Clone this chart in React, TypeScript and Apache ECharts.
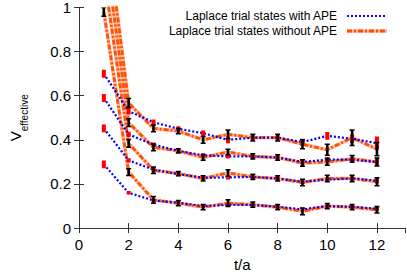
import React, { useEffect, useRef } from "react";
import * as echarts from "echarts";

// time slices t/a
const tValues = [1, 2, 3, 4, 5, 6, 7, 8, 9, 10, 11, 12];

// Laplace trial states with APE (blue)
const withApe1 = [0.70, 0.53, 0.48, 0.45, 0.43, 0.40, 0.41, 0.41, 0.39, 0.418, 0.405, 0.385];
const withApe2 = [0.59, 0.425, 0.378, 0.35, 0.33, 0.325, 0.325, 0.32, 0.30, 0.31, 0.31, 0.30];
const withApe3 = [0.452, 0.307, 0.265, 0.245, 0.228, 0.23, 0.232, 0.225, 0.21, 0.22, 0.225, 0.215];
const withApe4 = [0.289, 0.16, 0.125, 0.115, 0.10, 0.105, 0.105, 0.097, 0.085, 0.10, 0.096, 0.088];
const errWith1 = [0.018, 0.015, 0.012, 0.012, 0.012, 0.015, 0.012, 0.012, 0.015, 0.018, 0.02, 0.03];
const errWith2 = [0.018, 0.012, 0.01, 0.01, 0.01, 0.01, 0.01, 0.01, 0.012, 0.012, 0.012, 0.015];
const errWith3 = [0.018, 0.01, 0.01, 0.01, 0.01, 0.01, 0.01, 0.01, 0.01, 0.01, 0.01, 0.012];
const errWith4 = [0.018, 0.008, 0.008, 0.008, 0.008, 0.008, 0.008, 0.008, 0.008, 0.008, 0.008, 0.01];

// Laplace trial states without APE (orange)
const withoutApe1 = [1.45, 0.567, 0.452, 0.44, 0.40, 0.425, 0.41, 0.41, 0.38, 0.355, 0.41, 0.358];
const withoutApe2 = [1.30, 0.478, 0.366, 0.35, 0.32, 0.345, 0.325, 0.32, 0.295, 0.30, 0.314, 0.30];
const withoutApe3 = [1.15, 0.384, 0.262, 0.247, 0.225, 0.25, 0.232, 0.225, 0.207, 0.225, 0.225, 0.21];
const withoutApe4 = [0.98, 0.254, 0.128, 0.113, 0.095, 0.113, 0.106, 0.095, 0.076, 0.10, 0.095, 0.083];
const errWithout1 = [0.02, 0.02, 0.015, 0.012, 0.015, 0.02, 0.015, 0.015, 0.02, 0.025, 0.035, 0.03];
const errWithout2 = [0.02, 0.018, 0.015, 0.01, 0.012, 0.012, 0.012, 0.012, 0.015, 0.015, 0.015, 0.018];
const errWithout3 = [0.02, 0.018, 0.015, 0.01, 0.012, 0.015, 0.012, 0.012, 0.015, 0.015, 0.015, 0.018];
const errWithout4 = [0.02, 0.015, 0.015, 0.012, 0.012, 0.015, 0.012, 0.012, 0.015, 0.012, 0.012, 0.015];

const legendWith = "Laplace trial states with APE";
const legendWithout = "Laplace trial states without APE";

const BLUE = "#0000ff";
const ORANGE = "#ff5200";
const ORANGE_LIGHT = "#ffb8a0";
const FONT = "'Liberation Sans', Arial, sans-serif";

const withSets = [withApe1, withApe2, withApe3, withApe4];
const withErrs = [errWith1, errWith2, errWith3, errWith4];
const withoutSets = [withoutApe1, withoutApe2, withoutApe3, withoutApe4];
const withoutErrs = [errWithout1, errWithout2, errWithout3, errWithout4];

function pairs(vals: number[]) {
  return tValues.map((t, i) => [t, vals[i]]);
}
function triples(vals: number[], errs: number[]) {
  return tValues.map((t, i) => [t, vals[i], errs[i]]);
}

function errRender(color: string, capped: boolean) {
  return (params: any, api: any) => {
    const x = api.value(0);
    const y = api.value(1);
    const e = api.value(2);
    const p1 = api.coord([x, y + e]);
    const p2 = api.coord([x, y - e]);
    const children: any[] = [];
    if (capped) {
      children.push({
        type: "line",
        shape: { x1: p1[0], y1: p1[1], x2: p2[0], y2: p2[1] },
        style: { stroke: color, lineWidth: 2.6 },
      });
      children.push({
        type: "line",
        shape: { x1: p1[0] - 2.5, y1: p1[1], x2: p1[0] + 2.5, y2: p1[1] },
        style: { stroke: color, lineWidth: 1.5 },
      });
      children.push({
        type: "line",
        shape: { x1: p2[0] - 2.5, y1: p2[1], x2: p2[0] + 2.5, y2: p2[1] },
        style: { stroke: color, lineWidth: 1.5 },
      });
    } else {
      children.push({
        type: "rect",
        shape: { x: p1[0] - 2, y: p1[1], width: 4, height: p2[1] - p1[1] },
        style: { fill: color },
      });
    }
    return { type: "group", children };
  };
}

export default function App() {
  const ref = useRef<HTMLDivElement>(null);
  useEffect(() => {
    if (!ref.current) return;
    const chart = echarts.init(ref.current, null, { renderer: "svg" });
    const series: any[] = [];
    withoutSets.forEach((vals) => {
      series.push({
        type: "line",
        data: pairs(vals),
        symbol: "none",
        clip: true,
        lineStyle: { color: ORANGE_LIGHT, width: 3.5 },
        z: 2,
      });
      series.push({
        type: "line",
        data: pairs(vals),
        symbol: "none",
        clip: true,
        lineStyle: { color: ORANGE, width: 2.8, type: [5, 2, 2, 2] },
        z: 3,
      });
    });
    withSets.forEach((vals) => {
      series.push({
        type: "line",
        data: pairs(vals),
        symbol: "none",
        clip: true,
        lineStyle: { color: BLUE, width: 2.2, type: [2, 2] },
        z: 4,
      });
    });
    withSets.forEach((vals, k) => {
      series.push({
        type: "custom",
        data: triples(vals, withErrs[k]),
        encode: { x: 0, y: 1 },
        clip: true,
        renderItem: errRender("#ff0000", false),
        z: 5,
      });
    });
    withoutSets.forEach((vals, k) => {
      series.push({
        type: "custom",
        data: triples(vals, withoutErrs[k]),
        encode: { x: 0, y: 1 },
        clip: true,
        renderItem: errRender("#000000", true),
        z: 6,
      });
    });

    const axisLine = { show: true, lineStyle: { color: "#333", width: 1 } };
    const tick = { show: true, inside: true, length: 5, lineStyle: { color: "#333" } };

    chart.setOption({
      animation: false,
      grid: { left: 71, right: 1.5, top: 6, bottom: 45, containLabel: false },
      xAxis: [
        {
          type: "value",
          min: 0,
          max: 13.15,
          interval: 2,
          position: "bottom",
          axisLine,
          axisTick: tick,
          splitLine: { show: false },
          axisLabel: { fontSize: 15, color: "#000", margin: 9, fontFamily: FONT, showMaxLabel: false },
          name: "t/a",
          nameLocation: "middle",
          nameGap: 28,
          nameTextStyle: { fontSize: 15, color: "#000", fontFamily: FONT },
        },
        {
          type: "value",
          min: 0,
          max: 13.15,
          interval: 2,
          position: "top",
          axisLine,
          axisTick: tick,
          splitLine: { show: false },
          axisLabel: { show: false },
        },
      ],
      yAxis: [
        {
          type: "value",
          min: 0,
          max: 1,
          interval: 0.2,
          position: "left",
          axisLine,
          axisTick: tick,
          splitLine: { show: false },
          axisLabel: { fontSize: 15, color: "#000", margin: 8, fontFamily: FONT },
          name: "{v|V}{s|effective}",
          nameLocation: "middle",
          nameGap: 50,
          nameRotate: 90,
          nameTextStyle: {
            color: "#000",
            fontFamily: FONT,
            rich: {
              v: { fontSize: 15, lineHeight: 16, verticalAlign: "top", fontFamily: FONT, color: "#000" },
              s: { fontSize: 10, lineHeight: 21, verticalAlign: "bottom", fontFamily: FONT, color: "#000" },
            },
          },
        },
        {
          type: "value",
          min: 0,
          max: 1,
          interval: 0.2,
          position: "right",
          axisLine,
          axisTick: tick,
          splitLine: { show: false },
          axisLabel: { show: false },
        },
      ],
      graphic: [
        {
          type: "text",
          x: 337,
          y: 16,
          style: {
            text: legendWith,
            fontSize: 12,
            fontFamily: FONT,
            fill: "#000",
            align: "right",
            verticalAlign: "middle",
          },
          z: 10,
        },
        {
          type: "line",
          shape: { x1: 347, y1: 16, x2: 387, y2: 16 },
          style: { stroke: BLUE, lineWidth: 2.2, lineDash: [2, 2] },
          z: 10,
        },
        {
          type: "text",
          x: 337,
          y: 31,
          style: {
            text: legendWithout,
            fontSize: 12,
            fontFamily: FONT,
            fill: "#000",
            align: "right",
            verticalAlign: "middle",
          },
          z: 10,
        },
        {
          type: "line",
          shape: { x1: 347, y1: 31, x2: 387, y2: 31 },
          style: { stroke: ORANGE_LIGHT, lineWidth: 3.5 },
          z: 10,
        },
        {
          type: "line",
          shape: { x1: 347, y1: 31, x2: 387, y2: 31 },
          style: { stroke: ORANGE, lineWidth: 2.8, lineDash: [5, 2, 2, 2] },
          z: 11,
        },
      ],
      series,
    });
    return () => chart.dispose();
  }, []);
  return <div ref={ref} style={{ width: 407, height: 277, position: "absolute", left: 0, top: 0 }} />;
}
